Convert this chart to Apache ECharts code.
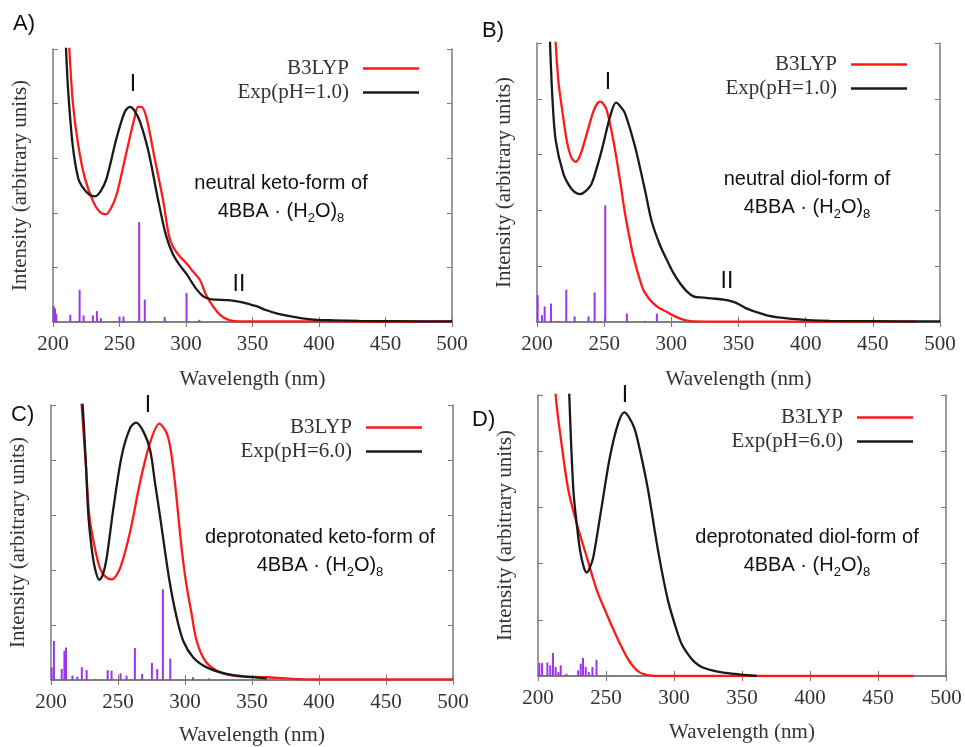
<!DOCTYPE html>
<html><head><meta charset="utf-8">
<script src="https://cdn.jsdelivr.net/npm/echarts@6/dist/echarts.min.js"></script>
<style>html,body{margin:0;padding:0;background:#fff}#c{width:965px;height:747px}</style>
</head><body><div id="c"></div>
<script>
// ---------- data ----------
const xTicks = [200, 250, 300, 350, 400, 450, 500];
const seriesNames = ['B3LYP', 'Exp(pH=1.0)', 'Exp(pH=6.0)'];
const panelLabels = ['A)', 'B)', 'C)', 'D)'];
const formLines = ['neutral keto-form of', 'neutral diol-form of', 'deprotonated keto-form of', 'deprotonated diol-form of'];

// Panel A
const expA = [[208,6.2],[209.8,5.0],[211.5,4.2],[214.8,3.24],[219,2.63],[222.8,2.45],[227,2.34],[231.6,2.30],[236,2.4],[240.3,2.63],[247.8,3.37],[254,3.85],[257.8,3.94],[261,3.88],[265.4,3.67],[272,3.1],[278.5,2.3],[284.8,1.6],[290,1.25],[295,1.05],[300.4,0.88],[307,0.63],[313,0.47],[318,0.42],[323,0.41],[332,0.40],[340.6,0.37],[347,0.33],[353,0.29],[360,0.22],[368,0.16],[377,0.11],[386,0.07],[398,0.04],[411,0.03],[430,0.02],[460,0.015],[500,0.01]];
const calcA = [[210,6.2],[212.3,5.0],[215,4.0],[219,3.24],[224,2.63],[230.3,2.2],[235,2.02],[239.8,1.97],[243.5,2.08],[247.8,2.33],[255.3,3.12],[261.5,3.76],[264,3.94],[266.5,3.94],[270.4,3.73],[276,3.05],[283,2.2],[287,1.6],[290.2,1.38],[295.4,1.2],[300.5,1.07],[305.4,0.92],[310.5,0.77],[315,0.5],[320.5,0.28],[326,0.12],[332,0.04],[340,0.01],[400,0.01],[450,0.005],[500,0.01]];
const sticksA = [[200.5,0.29],[201.5,0.25],[202.5,0.15],[213,0.13],[218,0.02],[220,0.59],[223,0.12],[230,0.12],[233,0.2],[236,0.07],[250,0.1],[253,0.1],[264.8,1.83],[269,0.41],[284,0.09],[300.4,0.53],[310,0.04]];

// Panel B
const expB = [[208,6.2],[209.7,5.0],[211.5,4.0],[213.9,3.26],[219.6,2.66],[224.6,2.42],[228,2.33],[232,2.29],[236,2.34],[240.7,2.48],[248.2,3.08],[254.4,3.68],[258.8,3.93],[261.5,3.88],[265.5,3.74],[273,3.14],[280.4,2.36],[285.4,1.8],[291.5,1.38],[296.7,1.11],[301.5,0.88],[306.6,0.69],[311.5,0.55],[316.5,0.46],[322,0.44],[331.4,0.42],[339,0.40],[346.3,0.36],[351,0.31],[356.2,0.24],[363,0.18],[371,0.12],[381,0.08],[393.4,0.05],[405,0.03],[418,0.02],[450,0.015],[500,0.01]];
const calcB = [[212,6.2],[213.9,5.0],[216,4.3],[218.4,3.86],[222.1,3.26],[225.5,2.95],[228.8,2.87],[232,2.98],[235.7,3.26],[241.9,3.77],[245,3.92],[246.9,3.95],[249,3.92],[251.9,3.8],[256.8,3.26],[261.8,2.54],[265.5,1.95],[269.2,1.47],[272,1.15],[276,0.8],[279.3,0.57],[283,0.43],[286.8,0.33],[291,0.25],[296.7,0.18],[301,0.12],[306.6,0.06],[311,0.03],[316.5,0.01],[350,0.005],[482.6,0.005]];
const sticksB = [[200.5,0.48],[203.7,0.12],[205.7,0.28],[210.4,0.33],[215.5,0.02],[221.8,0.58],[228,0.1],[238.4,0.1],[242.9,0.53],[250.8,2.09],[266.9,0.15],[280.5,0.02],[289.2,0.15]];

// Panel C
const expC = [[219.5,6.2],[223.6,5.0],[226.1,3.89],[227.9,2.99],[230.4,2.39],[232.8,2.03],[236,1.82],[238.5,1.9],[241.5,2.21],[246.5,3.11],[252.7,4.07],[259,4.58],[263.4,4.68],[268.9,4.52],[273.9,4.19],[277.6,3.59],[281.3,2.99],[284.8,2.39],[288.5,1.79],[293.3,1.19],[298.7,0.71],[306.2,0.41],[316.2,0.23],[331,0.11],[345,0.06],[356,0.04],[361,0.03]];
const calcC = [[220.5,6.2],[222.9,5.0],[226.1,3.89],[228.6,2.99],[232.8,2.39],[236.6,2.03],[240.5,1.88],[245.3,1.83],[251.5,2.03],[259,2.69],[266.4,3.59],[273.9,4.31],[280.8,4.66],[286.3,4.49],[289.3,4.19],[292.5,3.59],[295,2.99],[297.5,2.39],[300.7,1.79],[305,1.19],[308.7,0.71],[315,0.35],[323.7,0.17],[336,0.08],[361,0.05],[380,0.02],[400,0.01],[500,0.01]];
const sticksC = [[200.5,0.23],[202.2,0.71],[208,0.2],[210,0.53],[211.2,0.59],[216,0.08],[219.6,0.06],[223,0.23],[226.6,0.18],[233,0.02],[242.3,0.18],[245.2,0.17],[251.9,0.12],[256.4,0.08],[262.6,0.58],[268,0.11],[275.3,0.31],[279.3,0.2],[283.5,1.65],[289,0.39],[306,0.05],[317.7,0.03]];

// Panel D
const expD = [[221.8,6.2],[223,5.0],[226,3.31],[228.4,2.72],[230.9,2.24],[233.5,1.95],[235.8,1.84],[238,1.92],[240.7,2.12],[246.8,3.01],[252.9,3.9],[259,4.5],[263.5,4.69],[267,4.6],[271.3,4.38],[276,3.9],[281,3.3],[288.5,2.2],[295.5,1.35],[302,0.81],[306,0.55],[310.5,0.38],[315,0.25],[320.3,0.16],[328,0.1],[336.3,0.06],[348,0.03],[360.8,0.0]];
const calcD = [[211,6.2],[213,5.0],[217.5,4.1],[222.3,3.31],[228.4,2.72],[235.8,2.12],[243.2,1.53],[249.3,1.17],[255,0.85],[260.2,0.58],[265,0.35],[270,0.17],[275,0.06],[280,0.02],[286,0.0],[476.2,0.0]];
const sticksD = [[201,0.23],[203,0.23],[206.9,0.24],[209,0.19],[211,0.41],[213,0.16],[215,0.07],[216.7,0.19],[220.9,0.04],[229.5,0.1],[231.4,0.22],[233.1,0.32],[235.1,0.16],[237.3,0.07],[240,0.16],[243,0.29],[252.8,0.01],[257.7,0.01]];

// ---------- layout ----------
const panels = [
  {grid:{left:53, top:49, width:399, height:273}, calc:calcA, exp:expA, sticks:sticksA, expName:seriesNames[1],
   legend:{right:541, top:53}, label:[25,26], nameGap:47, lab:[[133,85,'I'],[239,285,'II']], text:[281,183]},
  {grid:{left:537, top:43, width:403, height:279}, calc:calcB, exp:expB, sticks:sticksB, expName:seriesNames[1],
   legend:{right:53, top:49}, label:[494,33], nameGap:47, lab:[[608,83,'I'],[727,282,'II']], text:[807,179]},
  {grid:{left:51, top:405, width:402, height:278}, calc:calcC, exp:expC, sticks:sticksC, expName:seriesNames[2],
   legend:{right:538, top:412}, label:[23,417], nameGap:45, lab:[[148,406,'I']], text:[320,537]},
  {grid:{left:538, top:395, width:408, height:281}, calc:calcD, exp:expD, sticks:sticksD, expName:seriesNames[2],
   legend:{right:47, top:402}, label:[484,422], nameGap:46, lab:[[625,396,'I']], text:[807,537]}
];

const SERIF = '"Liberation Serif", "Times New Roman", serif';
const SANS = '"Liberation Sans", Arial, sans-serif';
const axisGray = '#7a7a7a';

const grids = [], xAxes = [], yAxes = [], series = [], legends = [], graphics = [];
panels.forEach((p, i) => {
  grids.push(Object.assign({containLabel:false}, p.grid));
  const base = {type:'value', gridIndex:i, min:200, max:500, interval:50,
    axisLine:{show:true, lineStyle:{color:axisGray, width:1.5}},
    axisTick:{show:true, inside:true, length:5, lineStyle:{color:axisGray}},
    splitLine:{show:false}};
  xAxes.push(Object.assign({}, base, {position:'bottom', name:'Wavelength (nm)', nameLocation:'middle', nameGap:p.nameGap,
    nameTextStyle:{fontFamily:SERIF, fontSize:21, color:'#333'},
    axisLabel:{show:true, fontFamily:SERIF, fontSize:21, color:'#333', margin:12}}));
  xAxes.push(Object.assign({}, base, {position:'top', axisLabel:{show:false}}));
  const ybase = {type:'value', gridIndex:i, min:0, max:5, interval:1,
    axisLine:{show:true, lineStyle:{color:axisGray, width:1.5}},
    axisTick:{show:true, inside:true, length:5, lineStyle:{color:axisGray}},
    axisLabel:{show:false}, splitLine:{show:false}};
  yAxes.push(Object.assign({}, ybase, {position:'left', name:'Intensity (arbitrary units)', nameLocation:'middle', nameGap:22,
    nameTextStyle:{fontFamily:SERIF, fontSize:21, color:'#333'}}));
  yAxes.push(Object.assign({}, ybase, {position:'right'}));
  const xi = i*2, yi = i*2;
  series.push({type:'bar', name:'sticks'+i, xAxisIndex:xi, yAxisIndex:yi, data:p.sticks, barWidth:2,
    itemStyle:{color:'#9b35f0'}, silent:true, z:1});
  series.push({type:'line', name:seriesNames[0], xAxisIndex:xi, yAxisIndex:yi, data:p.calc, showSymbol:false,
    smooth:0.3, lineStyle:{color:'#ff1a1a', width:2.3}, itemStyle:{color:'#ff1a1a'}, clip:true, z:3});
  series.push({type:'line', name:p.expName, xAxisIndex:xi, yAxisIndex:yi, data:p.exp, showSymbol:false,
    smooth:0.3, lineStyle:{color:'#1a1a1a', width:2.3}, itemStyle:{color:'#1a1a1a'}, clip:true, z:4});
  legends.push({data:[seriesNames[0], p.expName], orient:'vertical', right:p.legend.right, top:p.legend.top,
    align:'right', icon:'rect', itemWidth:56, itemHeight:2.5, itemGap:3,
    textStyle:{fontFamily:SERIF, fontSize:21, color:'#333', lineHeight:20, padding:[0,9,0,0]},
    selectedMode:false});
  graphics.push({type:'text', left:p.label[0]-12, top:p.label[1]-13,
    style:{text:panelLabels[i], font:'22px '+SANS, fill:'#111'}});
  p.lab.forEach(l => graphics.push({type:'text', x:l[0], y:l[1],
    style:{text:l[2], font:'23px '+SANS, fill:'#111', align:'center', verticalAlign:'middle'}}));
  graphics.push({type:'text', x:p.text[0], y:p.text[1],
    style:{text:formLines[i], font:'20px '+SANS, fill:'#111', align:'center', verticalAlign:'middle'}});
  graphics.push({type:'text', x:p.text[0], y:p.text[1]+28,
    style:{text:'{a|4BBA · (H}{s|2}{a|O)}{s|8}', align:'center', verticalAlign:'middle',
      rich:{a:{fontFamily:SANS, fontSize:20, lineHeight:28, verticalAlign:'middle', fill:'#111', color:'#111'},
            s:{fontFamily:SANS, fontSize:13, lineHeight:28, verticalAlign:'bottom', fill:'#111', color:'#111'}}}});
});

const chart = echarts.init(document.getElementById('c'), null, {renderer:'canvas'});
chart.setOption({
  backgroundColor:'#ffffff',
  animation:false,
  grid:grids, xAxis:xAxes, yAxis:yAxes, series:series, legend:legends, graphic:graphics
});
</script></body></html>
